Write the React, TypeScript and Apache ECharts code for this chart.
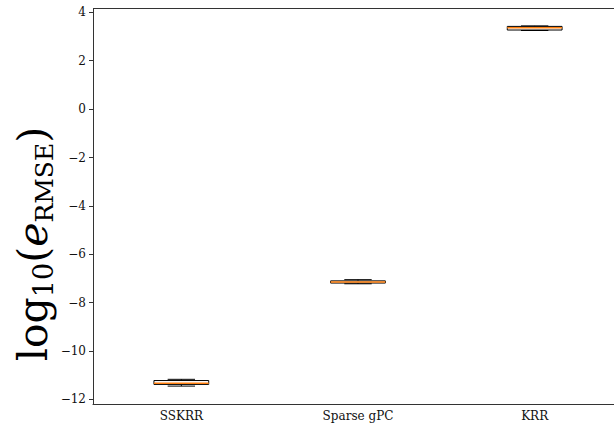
import React, { useEffect, useRef } from "react";
import * as echarts from "echarts";

const categories = ["SSKRR", "Sparse gPC", "KRR"];
const mins = [-11.45, -7.22, 3.25];
const q1s = [-11.38, -7.19, 3.27];
const medians = [-11.33, -7.15, 3.36];
const q3s = [-11.22, -7.1, 3.42];
const maxs = [-11.17, -7.05, 3.44];
const yTicks = [-12, -10, -8, -6, -4, -2, 0, 2, 4];

const FONT = "'DejaVu Serif', 'Liberation Serif', serif";

export default function App() {
  const ref = useRef<HTMLDivElement>(null);
  useEffect(() => {
    const chart = echarts.init(ref.current!, null, { renderer: "svg" });
    const data = categories.map((_, i) => [i, mins[i], q1s[i], medians[i], q3s[i], maxs[i]]);
    chart.setOption({
      animation: false,
      backgroundColor: "#fff",
      grid: { left: 93, right: 77, top: 8.5, bottom: 31, show: false },
      xAxis: {
        type: "category",
        data: categories,
        position: "bottom",
        axisLine: { onZero: false, lineStyle: { color: "#333", width: 1 } },
        axisTick: { alignWithLabel: true, length: 4, lineStyle: { color: "#333" } },
        axisLabel: { color: "#111", fontFamily: FONT, fontSize: 12, margin: 6 },
        splitLine: { show: false },
      },
      yAxis: {
        type: "value",
        min: -12.19,
        max: 4.16,
        axisLine: { show: true, onZero: false, lineStyle: { color: "#333", width: 1 } },
        axisTick: { show: true, length: 4, customValues: yTicks, lineStyle: { color: "#333" } },
        axisLabel: {
          customValues: yTicks,
          color: "#111",
          fontFamily: FONT,
          fontSize: 12,
          margin: 7,
          formatter: (v: number) => (v < 0 ? "\u2212" + Math.abs(v) : String(v)),
        },
        splitLine: { show: false },
      },
      series: [
        {
          type: "custom",
          data,
          renderItem: (params: any, api: any) => {
            const x = api.value(0);
            const pMin = api.coord([x, api.value(1)]);
            const pQ1 = api.coord([x, api.value(2)]);
            const pMed = api.coord([x, api.value(3)]);
            const pQ3 = api.coord([x, api.value(4)]);
            const pMax = api.coord([x, api.value(5)]);
            const bw = api.size([1, 0])[0] * 0.31;
            const cx = pMed[0];
            const black = { stroke: "#000", lineWidth: 1, fill: "none" };
            return {
              type: "group",
              children: [
                { type: "line", shape: { x1: cx, y1: pQ3[1], x2: cx, y2: pMax[1] }, style: black },
                { type: "line", shape: { x1: cx, y1: pQ1[1], x2: cx, y2: pMin[1] }, style: black },
                { type: "line", shape: { x1: cx - bw / 4, y1: pMax[1], x2: cx + bw / 4, y2: pMax[1] }, style: black },
                { type: "line", shape: { x1: cx - bw / 4, y1: pMin[1], x2: cx + bw / 4, y2: pMin[1] }, style: black },
                {
                  type: "rect",
                  shape: { x: cx - bw / 2, y: pQ3[1], width: bw, height: pQ1[1] - pQ3[1] },
                  style: { stroke: "#000", lineWidth: 1, fill: "#fff" },
                },
                {
                  type: "line",
                  shape: { x1: cx - bw / 2, y1: pMed[1], x2: cx + bw / 2, y2: pMed[1] },
                  style: { stroke: "#ff7f0e", lineWidth: 1.5 },
                },
              ],
            };
          },
        },
      ],
      graphic: [
        {
          type: "rect",
          z: 100,
          shape: { x: 598, y: 9.5, width: 30, height: 393 },
          style: { fill: "#fff", stroke: "none" },
        },
        {
          type: "line",
          z: 101,
          shape: { x1: 93, y1: 8.5, x2: 700, y2: 8.5 },
          style: { stroke: "#333", lineWidth: 1 },
        },
        {
          type: "text",
          x: 33,
          y: 244,
          rotation: Math.PI / 2,
          style: {
            text: "log{sub|10}({it|e}{sub2|RMSE})",
            fontFamily: FONT,
            fontSize: 41,
            fill: "#000",
            align: "center",
            verticalAlign: "middle",
            rich: {
              sub: { fontFamily: FONT, fontSize: 27, verticalAlign: "bottom", padding: [20, 0, 0, 0] },
              it: { fontFamily: FONT, fontSize: 41, fontStyle: "italic" },
              sub2: { fontFamily: FONT, fontSize: 25, verticalAlign: "bottom", padding: [18, 0, 0, 0] },
            },
          },
        },
      ],
    });
    return () => chart.dispose();
  }, []);
  return (
    <div style={{ position: "fixed", left: 0, top: 0, width: 614, height: 435, overflow: "hidden" }}>
      <div ref={ref} style={{ width: 700, height: 435 }} />
    </div>
  );
}
